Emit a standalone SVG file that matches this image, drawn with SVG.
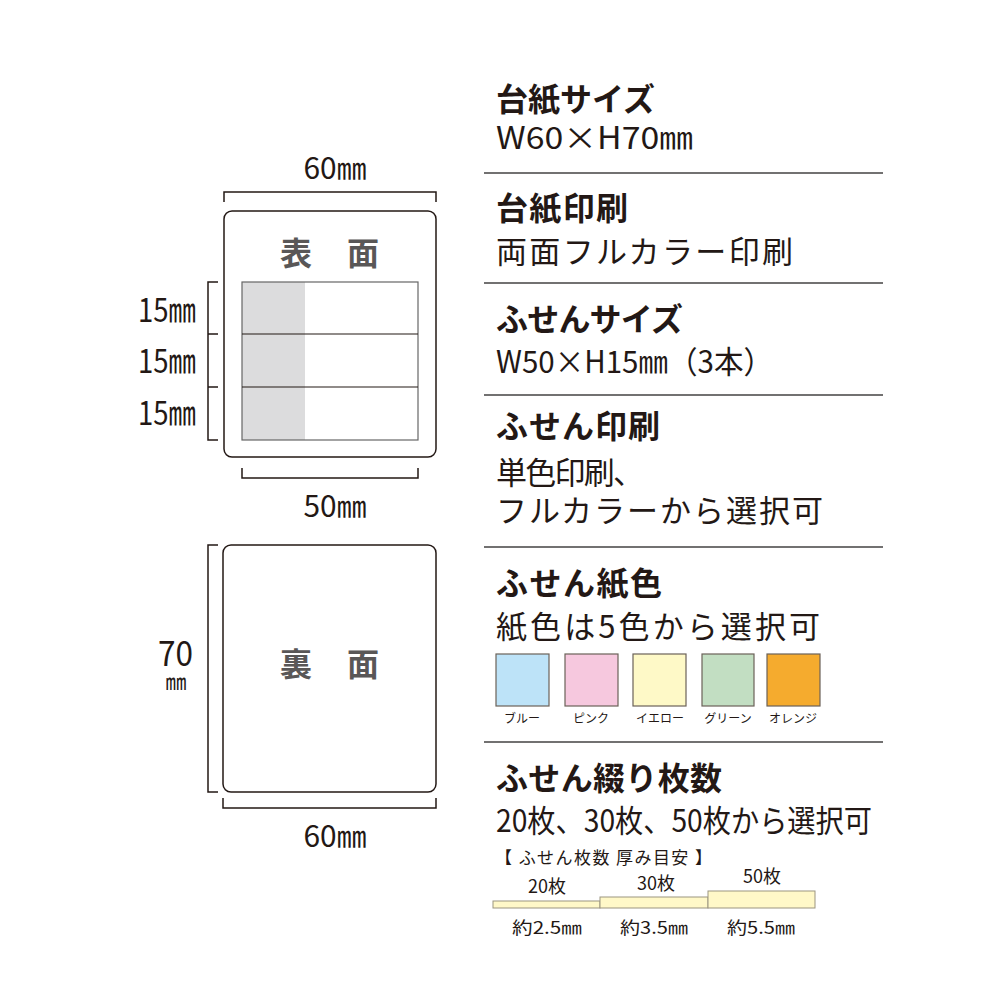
<svg xmlns="http://www.w3.org/2000/svg" width="1000" height="1000" viewBox="0 0 1000 1000">
<style>
text{font-family:"Noto Sans CJK JP","Noto Sans",sans-serif;fill:#231815}
.h{font-size:32px;font-weight:700}
.s{font-size:31px;font-weight:400}
.dim{font-size:30px;font-weight:400}
.face{font-size:32px;font-weight:700;fill:#595757}
.sw{font-size:12px;text-anchor:middle}
.sm{font-size:17px;text-anchor:middle}
.br{fill:none;stroke:#231815;stroke-width:1.5}
.sep{stroke:#727171;stroke-width:2}
.card{fill:#fff;stroke:#231815;stroke-width:1.5}
.swatch{stroke:#6b6259;stroke-width:1.2}
.bar{fill:#FFF8C8;stroke:#9b9580;stroke-width:1}
</style>
<rect width="1000" height="1000" fill="#fff"/>

<g id="front">
<text class="dim" x="335" y="179" text-anchor="middle" textLength="63" lengthAdjust="spacingAndGlyphs">60㎜</text>
<path class="br" d="M224,202 V192 H436 V202"/>
<rect class="card" x="224" y="211" width="212" height="246" rx="8"/>
<text class="face" x="296" y="265" text-anchor="middle">表</text>
<text class="face" x="363" y="265" text-anchor="middle">面</text>
<rect x="242" y="282" width="63" height="158" fill="#dcdcdd"/>
<rect x="242" y="282" width="176" height="158" fill="none" stroke="#666" stroke-width="1.2"/>
<line x1="242" y1="334" x2="418" y2="334" stroke="#231815" stroke-width="1.2"/>
<line x1="242" y1="387" x2="418" y2="387" stroke="#231815" stroke-width="1.2"/>
<path class="br" d="M218,282 H208 V440 H218 M208,334 H218 M208,387 H218"/>
<text class="dim" x="138" y="322" textLength="58" lengthAdjust="spacingAndGlyphs" style="font-size:33px">15㎜</text>
<text class="dim" x="138" y="373" textLength="58" lengthAdjust="spacingAndGlyphs" style="font-size:33px">15㎜</text>
<text class="dim" x="138" y="425" textLength="58" lengthAdjust="spacingAndGlyphs" style="font-size:33px">15㎜</text>
<path class="br" d="M242,468 V478 H418 V468"/>
<text class="dim" x="335" y="517" text-anchor="middle" textLength="63" lengthAdjust="spacingAndGlyphs">50㎜</text>
</g>

<g id="back">
<rect class="card" x="223" y="545" width="213" height="247" rx="8"/>
<text class="face" x="296" y="676" text-anchor="middle">裏</text>
<text class="face" x="363" y="676" text-anchor="middle">面</text>
<path class="br" d="M218,545 H208 V792 H218"/>
<text class="dim" x="158" y="666" textLength="35" lengthAdjust="spacingAndGlyphs" style="font-size:35px">70</text>
<text class="dim" x="176" y="689" text-anchor="middle" style="font-size:21px">㎜</text>
<path class="br" d="M223,798 V808 H436 V798"/>
<text class="dim" x="335" y="847" text-anchor="middle" textLength="63" lengthAdjust="spacingAndGlyphs">60㎜</text>
</g>

<g id="spec-daishi-size">
<text class="h" x="496" y="111" textLength="159">台紙サイズ</text>
<text class="s" x="496" y="149" textLength="197" lengthAdjust="spacingAndGlyphs">W60×H70㎜</text>
</g>
<g id="spec-daishi-print">
<text class="h" x="496" y="220" textLength="132">台紙印刷</text>
<text class="s" x="496" y="263" textLength="297">両面フルカラー印刷</text>
</g>
<g id="spec-fusen-size">
<text class="h" x="496" y="331" textLength="187">ふせんサイズ</text>
<text class="s" x="496" y="373" textLength="277" lengthAdjust="spacingAndGlyphs">W50×H15㎜（3本）</text>
</g>
<g id="spec-fusen-print">
<text class="h" x="496" y="438" textLength="164">ふせん印刷</text>
<text class="s" x="496" y="484" textLength="148">単色印刷、</text>
<text class="s" x="496" y="522" textLength="327">フルカラーから選択可</text>
</g>
<g id="spec-fusen-color">
<text class="h" x="496" y="595" textLength="166">ふせん紙色</text>
<text class="s" x="496" y="638" textLength="324">紙色は5色から選択可</text>
<rect class="swatch" x="496" y="654" width="53" height="52" fill="#BDE3F8"/>
<rect class="swatch" x="565" y="654" width="53" height="52" fill="#F6C8DE"/>
<rect class="swatch" x="633" y="654" width="53" height="52" fill="#FEF9C7"/>
<rect class="swatch" x="702" y="654" width="52" height="52" fill="#C2DEC2"/>
<rect class="swatch" x="767" y="654" width="53" height="52" fill="#F5AB2E"/>
<text class="sw" x="522" y="723">ブルー</text>
<text class="sw" x="591" y="723">ピンク</text>
<text class="sw" x="660" y="723">イエロー</text>
<text class="sw" x="728" y="723">グリーン</text>
<text class="sw" x="793" y="723">オレンジ</text>
</g>
<g id="spec-fusen-count">
<text class="h" x="496" y="790" textLength="226">ふせん綴り枚数</text>
<text class="s" x="496" y="832" textLength="376" lengthAdjust="spacingAndGlyphs">20枚、30枚、50枚から選択可</text>
<text x="495" y="864" style="font-size:17px" textLength="217">【 ふせん枚数 厚み目安 】</text>
<rect class="bar" x="493" y="901" width="107" height="7"/>
<rect class="bar" x="600" y="897" width="108" height="11"/>
<rect class="bar" x="708" y="891" width="107" height="17"/>
<text class="sm" x="547" y="893" style="font-size:18px">20枚</text>
<text class="sm" x="656" y="890" style="font-size:18px">30枚</text>
<text class="sm" x="762" y="883" style="font-size:18px">50枚</text>
<text class="sm" x="547" y="934" textLength="70" lengthAdjust="spacingAndGlyphs">約2.5㎜</text>
<text class="sm" x="654" y="934" textLength="68" lengthAdjust="spacingAndGlyphs">約3.5㎜</text>
<text class="sm" x="761" y="934" textLength="68" lengthAdjust="spacingAndGlyphs">約5.5㎜</text>
</g>

<g id="connectors">
<line class="sep" x1="484" y1="173" x2="883" y2="173"/>
<line class="sep" x1="484" y1="283" x2="883" y2="283"/>
<line class="sep" x1="484" y1="395" x2="883" y2="395"/>
<line class="sep" x1="484" y1="547" x2="883" y2="547"/>
<line class="sep" x1="484" y1="742" x2="883" y2="742"/>
</g>
</svg>
